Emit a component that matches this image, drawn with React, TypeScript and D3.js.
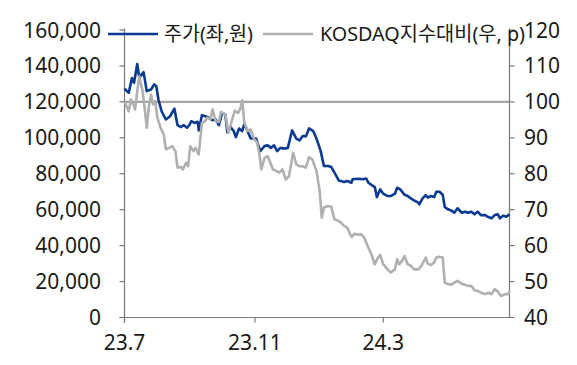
import React from "react";
import * as d3 from "d3";

const priceDates = [
  "2023-07-01","2023-07-05","2023-07-08","2023-07-10","2023-07-13","2023-07-15","2023-07-18","2023-07-19",
  "2023-07-22","2023-07-26","2023-07-29","2023-07-31","2023-08-02","2023-08-05","2023-08-09","2023-08-13",
  "2023-08-17","2023-08-20","2023-08-23","2023-08-26","2023-08-29","2023-08-31","2023-09-02","2023-09-05",
  "2023-09-08","2023-09-09","2023-09-12","2023-09-16","2023-09-19","2023-09-22","2023-09-25","2023-09-28",
  "2023-10-01","2023-10-04","2023-10-06","2023-10-09","2023-10-12","2023-10-14","2023-10-17","2023-10-20",
  "2023-10-22","2023-10-25","2023-10-28","2023-11-02","2023-11-06","2023-11-10","2023-11-13","2023-11-16",
  "2023-11-19","2023-11-22","2023-11-25","2023-11-29","2023-12-02","2023-12-06","2023-12-10","2023-12-13",
  "2023-12-16","2023-12-19","2023-12-22","2023-12-26","2023-12-29","2024-01-02","2024-01-05","2024-01-09",
  "2024-01-12","2024-01-15","2024-01-19","2024-01-21","2024-01-24","2024-01-27","2024-01-31","2024-02-01",
  "2024-02-06","2024-02-11","2024-02-14","2024-02-16","2024-02-19","2024-02-22","2024-02-24","2024-02-27",
  "2024-03-01","2024-03-05","2024-03-08","2024-03-12","2024-03-14","2024-03-17","2024-03-21","2024-03-24",
  "2024-03-27","2024-03-30","2024-04-03","2024-04-04","2024-04-07","2024-04-10","2024-04-12","2024-04-15",
  "2024-04-18","2024-04-20","2024-04-23","2024-04-26","2024-04-28","2024-05-01","2024-05-04","2024-05-07",
  "2024-05-10","2024-05-14","2024-05-17","2024-05-20","2024-05-23","2024-05-26","2024-05-29","2024-06-01",
  "2024-06-05","2024-06-08","2024-06-11","2024-06-14","2024-06-17","2024-06-19","2024-06-22","2024-06-25",
  "2024-06-28",
];
const priceValues = [
  127400,125000,133300,130600,141100,133300,136000,136500,
  126000,126900,129700,128700,121300,114800,110200,112000,
  116300,107000,106000,107000,105600,107000,109300,108300,
  108900,104100,112600,111900,111100,109800,110200,107000,
  113900,113000,103000,106000,103700,100400,105200,103700,
  107800,103700,99600,99600,92600,95400,95800,94400,
  95800,92600,94400,94000,94400,104100,99600,98500,
  101000,100800,105200,103700,99600,92600,84300,84300,
  83700,80600,76300,75900,75400,76000,75000,76900,
  77200,76900,77300,75000,73700,72600,67000,71300,
  68900,67600,67600,68900,72200,71300,68300,67600,
  66300,65200,63900,63000,66300,68100,66700,67600,
  67000,70000,70000,68300,61500,60200,59600,58300,
  60800,58300,58900,58300,58900,57400,58900,57000,
  57000,55900,55200,57000,57400,55200,56700,56100,
  57400,
];

const relDates = [
  "2023-07-01","2023-07-05","2023-07-07","2023-07-10","2023-07-11","2023-07-14","2023-07-15","2023-07-18",
  "2023-07-20","2023-07-22","2023-07-24","2023-07-26","2023-07-28","2023-07-30","2023-08-01","2023-08-04",
  "2023-08-07","2023-08-09","2023-08-12","2023-08-15","2023-08-18","2023-08-20","2023-08-23","2023-08-25",
  "2023-08-28","2023-08-30","2023-09-01","2023-09-04","2023-09-06","2023-09-09","2023-09-12","2023-09-15",
  "2023-09-17","2023-09-20","2023-09-22","2023-09-25","2023-09-28","2023-09-30","2023-10-04","2023-10-07",
  "2023-10-10","2023-10-13","2023-10-16","2023-10-18","2023-10-20","2023-10-22","2023-10-25","2023-10-28",
  "2023-10-31","2023-11-03","2023-11-05","2023-11-07","2023-11-10","2023-11-13","2023-11-15","2023-11-18",
  "2023-11-21","2023-11-24","2023-11-27","2023-11-30","2023-12-03","2023-12-07","2023-12-10","2023-12-13",
  "2023-12-16","2023-12-19","2023-12-22","2023-12-25","2023-12-29","2024-01-01","2024-01-03","2024-01-05",
  "2024-01-09","2024-01-12","2024-01-15","2024-01-18","2024-01-21","2024-01-24","2024-01-27","2024-01-31",
  "2024-02-03","2024-02-06","2024-02-09","2024-02-12","2024-02-16","2024-02-19","2024-02-22","2024-02-25",
  "2024-02-27","2024-03-01","2024-03-05","2024-03-08","2024-03-12","2024-03-14","2024-03-16","2024-03-19",
  "2024-03-21","2024-03-24","2024-03-27","2024-03-30","2024-04-03","2024-04-06","2024-04-10","2024-04-12",
  "2024-04-15","2024-04-18","2024-04-20","2024-04-23","2024-04-26","2024-04-28","2024-05-01","2024-05-04",
  "2024-05-07","2024-05-10","2024-05-14","2024-05-17","2024-05-20","2024-05-23","2024-05-26","2024-05-29",
  "2024-06-01","2024-06-05","2024-06-08","2024-06-11","2024-06-14","2024-06-17","2024-06-20","2024-06-24",
  "2024-06-27","2024-06-28",
];
const relValues = [
  100,97.4,100.7,98.8,97.9,105.3,107.1,103,
  98.3,92.8,98.8,102,99.3,100.2,95.6,92.8,
  90.9,86.8,87.2,87.7,86.3,81.7,81.9,81.2,
  83,82.1,87.7,86.3,87.2,85.4,94.2,94.6,
  95.6,95.1,97.9,94.6,94.4,97.2,96.5,91.4,
  94.6,97.6,96.9,97.9,100.4,94.2,91.9,92.3,
  89.8,88.6,85.8,81.2,84.4,84.9,83.5,81.2,
  80.8,80.3,81.2,78.4,79.3,85.8,82.6,82.1,
  82.1,81.7,84.6,84,80.8,75.2,67.8,70.6,
  71,70.8,67.3,67,66.4,65.5,65,62.4,
  63.3,63,63.2,62.2,59.4,57.4,54.8,56.7,
  57.4,54.8,53.4,52.5,53.4,56.2,54.8,55.9,
  57.1,54.8,54.4,53.4,53.4,54.4,56.7,55,
  54.6,55.3,56.7,56.9,56.7,49.7,49.3,49.1,
  49.7,50.2,49.4,49.1,48.8,48.8,47.6,47.4,
  46.9,46.5,46.9,46.5,47.9,47.2,46,46.5,
  46.5,47.4,
];

const xTickDates = ["2023-07-01", "2023-11-01", "2024-03-01"];
const xTickLabels = ["23.7", "23.11", "24.3"];
const leftTicks = [0, 20000, 40000, 60000, 80000, 100000, 120000, 140000, 160000];
const rightTicks = [40, 50, 60, 70, 80, 90, 100, 110, 120];
const legendLabels = ["주가(좌,원)", "KOSDAQ지수대비(우, p)"];
const refValue = 100;

const W = 577, H = 365;
const FONT = "'Noto Sans', 'Noto Sans CJK KR', sans-serif";
const BLUE = "#0b3a92";
const GRAY = "#b0b0b0";
const AXIS = "#7a7a7a";

export default function App() {
  const parse = d3.timeParse("%Y-%m-%d");
  const x = d3.scaleTime()
    .domain([parse("2023-07-01")!, parse("2024-06-28")!])
    .range([124.5, 509.5]);
  const yL = d3.scaleLinear().domain([0, 160000]).range([317.5, 30]);
  const yR = d3.scaleLinear().domain([40, 120]).range([317.5, 30]);

  const price = priceDates.map((d, i) => ({ d: parse(d)!, v: priceValues[i] }));
  const rel = relDates.map((d, i) => ({ d: parse(d)!, v: relValues[i] }));

  const lineP = d3.line<{ d: Date; v: number }>().x(p => x(p.d)).y(p => yL(p.v));
  const lineR = d3.line<{ d: Date; v: number }>().x(p => x(p.d)).y(p => yR(p.v));
  const fmt = d3.format(",");

  const x0 = x.range()[0], x1 = x.range()[1];
  const y0 = yL.range()[0], yTop = yL.range()[1];

  return (
    <svg width={W} height={H} style={{ position: "absolute", left: 0, top: 0, background: "#fff" }}
      fontFamily={FONT}>
      <rect x={0} y={0} width={W} height={H} fill="#fff" />
      {/* reference line */}
      <line x1={x0} x2={x1} y1={yR(refValue)} y2={yR(refValue)} stroke="#a3a3a3" strokeWidth={2.2} />
      {/* axes */}
      <line x1={x0} x2={x0} y1={yTop - 1.5} y2={y0 + 5} stroke={AXIS} strokeWidth={1.2} />
      <line x1={x1} x2={x1} y1={yTop - 1.5} y2={y0} stroke={AXIS} strokeWidth={1.2} />
      <line x1={x0 - 5} x2={x1} y1={y0} y2={y0} stroke={AXIS} strokeWidth={1.2} />
      {leftTicks.map(t => (
        <g key={"l" + t}>
          <line x1={x0 - 5} x2={x0} y1={yL(t)} y2={yL(t)} stroke={AXIS} strokeWidth={1.2} />
          <text x={101} y={yL(t)} dy="0.36em" textAnchor="end" fontSize={21} fill="#1a1a1a">{fmt(t)}</text>
        </g>
      ))}
      {rightTicks.map(t => (
        <g key={"r" + t}>
          <line x1={x1} x2={x1 + 5} y1={yR(t)} y2={yR(t)} stroke={AXIS} strokeWidth={1.2} />
          <text x={524} y={yR(t)} dy="0.36em" textAnchor="start" fontSize={21} fill="#1a1a1a">{t}</text>
        </g>
      ))}
      {xTickDates.map((d, i) => (
        <g key={"x" + d}>
          <line x1={x(parse(d)!)} x2={x(parse(d)!)} y1={y0} y2={y0 + 5} stroke={AXIS} strokeWidth={1.2} />
          <text x={x(parse(d)!)} y={350} textAnchor="middle" fontSize={21} fill="#1a1a1a">{xTickLabels[i]}</text>
        </g>
      ))}
      {/* series */}
      <path d={lineP(price)!} fill="none" stroke={BLUE} strokeWidth={2.6} strokeLinejoin="round" />
      <path d={lineR(rel)!} fill="none" stroke={GRAY} strokeWidth={2.6} strokeLinejoin="round" />
      {/* legend */}
      <line x1={108} x2={158} y1={34} y2={34} stroke={BLUE} strokeWidth={2.6} />
      <text x={164} y={41} fontSize={20} fill="#1a1a1a" textLength={89} lengthAdjust="spacingAndGlyphs">{legendLabels[0]}</text>
      <line x1={263} x2={313} y1={34} y2={34} stroke={GRAY} strokeWidth={2.6} />
      <text x={320} y={41} fontSize={20} fill="#1a1a1a" textLength={205} lengthAdjust="spacingAndGlyphs">{legendLabels[1]}</text>
    </svg>
  );
}
